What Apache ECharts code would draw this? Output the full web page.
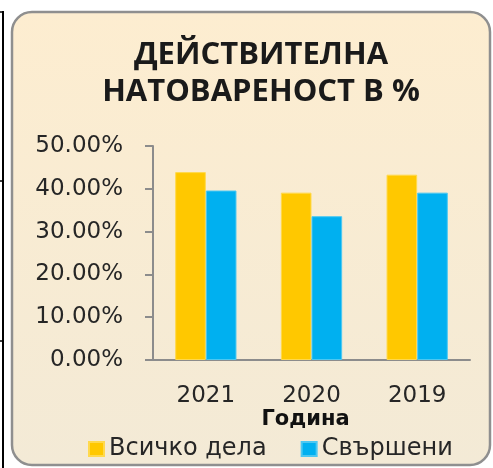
<!DOCTYPE html>
<html>
<head>
<meta charset="utf-8">
<script src="https://cdn.jsdelivr.net/npm/echarts@6/dist/echarts.min.js"></script>
<style>
  html, body { margin: 0; padding: 0; background: #ffffff; }
  #chart { width: 493px; height: 468px; }
</style>
</head>
<body>
<div id="chart"></div>
<script>
var years = ['2021', '2020', '2019'];
var allCases = [43.9, 39.1, 43.3];
var doneCases = [39.6, 33.6, 39.1];
var seriesNames = ['Всичко дела', 'Свършени'];
var yTicks = { min: 0, max: 50, interval: 10 };

var titleFont = '"Open Sans", "Noto Sans", sans-serif';
var font = '"DejaVu Sans", "Noto Sans", sans-serif';

var chart = echarts.init(document.getElementById('chart'));

var option = {
    backgroundColor: '#ffffff',
    animation: false,
    graphic: [
        // frame line at left edge
        { type: 'line', shape: { x1: 3, y1: 11, x2: 3, y2: 468 }, style: { stroke: '#000', lineWidth: 2 }, z: -10 },
        { type: 'line', shape: { x1: 0, y1: 12, x2: 3, y2: 12 }, style: { stroke: '#000', lineWidth: 1.5 }, z: -10 },
        { type: 'line', shape: { x1: 0, y1: 181, x2: 3, y2: 181 }, style: { stroke: '#000', lineWidth: 1.5 }, z: -10 },
        { type: 'line', shape: { x1: 0, y1: 341, x2: 3, y2: 341 }, style: { stroke: '#000', lineWidth: 1.5 }, z: -10 },
        {
            type: 'rect',
            shape: { x: 12, y: 12, width: 478, height: 453, r: 20 },
            style: {
                fill: new echarts.graphic.LinearGradient(0, 0, 0, 1, [
                    { offset: 0, color: '#fdedd0' },
                    { offset: 1, color: '#f3ead6' }
                ]),
                stroke: '#8f8f8f',
                lineWidth: 2.5
            },
            z: -9
        },
        {
            type: 'text',
            x: 261,
            y: 37,
            style: {
                text: 'ДЕЙСТВИТЕЛНА\nНАТОВАРЕНОСТ В %',
                align: 'center',
                fontFamily: titleFont,
                fontWeight: 'bold',
                fontSize: 31,
                lineHeight: 37,
                fill: '#1a1a1a'
            }
        }
    ],
    grid: { left: 153, right: 23, top: 146, bottom: 108 },
    legend: {
        data: seriesNames,
        left: 83,
        top: 432,
        icon: 'rect',
        itemWidth: 15,
        itemHeight: 14,
        itemGap: 34,
        textStyle: { fontFamily: font, fontSize: 24, color: '#262626' }
    },
    xAxis: {
        type: 'category',
        data: years,
        name: 'Година',
        nameLocation: 'middle',
        nameGap: 48,
        nameTextStyle: { fontFamily: font, fontWeight: 'bold', fontSize: 21, color: '#111', padding: [0, 12, 0, 0] },
        axisLine: { lineStyle: { color: '#8c8c8c', width: 2 } },
        axisTick: { length: 8, lineStyle: { color: '#8c8c8c', width: 2 } },
        axisLabel: { fontFamily: font, fontSize: 23, color: '#262626', margin: 25 }
    },
    yAxis: {
        type: 'value',
        min: yTicks.min,
        max: yTicks.max,
        interval: yTicks.interval,
        axisLine: { show: true, lineStyle: { color: '#8c8c8c', width: 2 } },
        axisTick: { show: true, length: 8, lineStyle: { color: '#8c8c8c', width: 2 } },
        splitLine: { show: false },
        axisLabel: {
            fontFamily: font, fontSize: 23, color: '#262626', margin: 30,
            formatter: function (v) { return v.toFixed(2) + '%'; }
        }
    },
    series: [{
        name: seriesNames[0],
        type: 'bar',
        data: allCases,
        barGap: 0,
        barCategoryGap: '42%',
        itemStyle: { color: '#ffc800', borderColor: '#ffd94d', borderWidth: 1 }
    }, {
        name: seriesNames[1],
        type: 'bar',
        data: doneCases,
        itemStyle: { color: '#00b0f0', borderColor: '#4cc8f2', borderWidth: 1 }
    }]
};

chart.setOption(option);
</script>
</body>
</html>
